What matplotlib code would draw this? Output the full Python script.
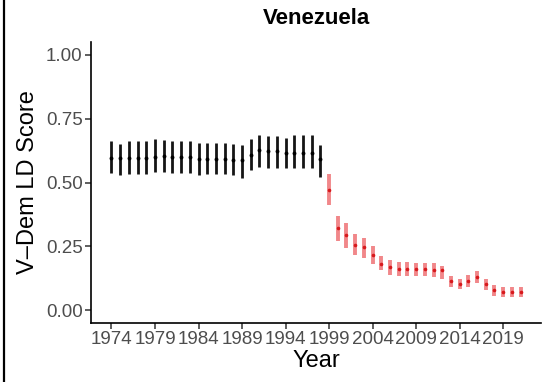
import matplotlib
matplotlib.use("Agg")
import matplotlib.pyplot as plt
from matplotlib.lines import Line2D

plt.rcParams['font.family'] = ['Liberation Sans', 'DejaVu Sans']

# Venezuela V-Dem Liberal Democracy index: point estimate with credible interval
years_pre = list(range(1974, 1999))
score_pre = [0.595, 0.594, 0.595, 0.595, 0.595, 0.600, 0.604, 0.598, 0.600, 0.600,
             0.593, 0.593, 0.593, 0.591, 0.589, 0.590, 0.608, 0.629, 0.623, 0.622,
             0.615, 0.615, 0.615, 0.615, 0.593]
upper_pre = [0.663, 0.651, 0.663, 0.663, 0.663, 0.672, 0.665, 0.663, 0.663, 0.663,
             0.656, 0.656, 0.656, 0.656, 0.651, 0.646, 0.672, 0.685, 0.681, 0.681,
             0.676, 0.685, 0.685, 0.685, 0.645]
lower_pre = [0.538, 0.529, 0.533, 0.533, 0.533, 0.542, 0.542, 0.536, 0.536, 0.536,
             0.529, 0.533, 0.533, 0.533, 0.529, 0.519, 0.549, 0.559, 0.555, 0.555,
             0.555, 0.557, 0.557, 0.557, 0.523]

years_post = list(range(1999, 2022))
score_post = [0.471, 0.323, 0.294, 0.257, 0.246, 0.218, 0.182, 0.169, 0.163, 0.163,
              0.162, 0.160, 0.158, 0.156, 0.114, 0.102, 0.114, 0.131, 0.101, 0.079,
              0.073, 0.072, 0.073]
upper_post = [0.532, 0.370, 0.341, 0.300, 0.283, 0.253, 0.211, 0.196, 0.189, 0.189,
              0.186, 0.186, 0.184, 0.174, 0.134, 0.121, 0.136, 0.153, 0.123, 0.098,
              0.091, 0.091, 0.092]
lower_post = [0.411, 0.271, 0.244, 0.215, 0.204, 0.182, 0.156, 0.139, 0.134, 0.134,
              0.133, 0.133, 0.130, 0.123, 0.090, 0.082, 0.090, 0.105, 0.078, 0.056,
              0.053, 0.052, 0.053]

x_ticks = list(range(1974, 2020, 5))
y_ticks = [0.00, 0.25, 0.50, 0.75, 1.00]

fig = plt.figure(figsize=(5.44, 3.82), dpi=100)
ax = fig.add_axes([0.1673, 0.1545, 0.8272, 0.7355])

# Pre-1999 intervals in black
ax.vlines(years_pre, lower_pre, upper_pre, color='#151515', linewidth=2.0)
ax.plot(years_pre, score_pre, 'o', color='black', markersize=2.8,
        markeredgewidth=0, linestyle='none')

# From 1999 on in translucent red
ax.vlines(years_post, lower_post, upper_post, color='#E8383D', alpha=0.6, linewidth=2.8)
ax.plot(years_post, score_post, 'o', color='#D7191C', markersize=2.6,
        markeredgewidth=0, linestyle='none')

span = years_post[-1] - years_pre[0]
ax.set_xlim(years_pre[0] - 0.05 * span, years_post[-1] + 0.05 * span)
ax.set_ylim(-0.05, 1.05)
ax.set_xticks(x_ticks)
ax.set_yticks(y_ticks)
ax.set_yticklabels([f"{v:.2f}" for v in y_ticks])

for s in ['top', 'right']:
    ax.spines[s].set_visible(False)
for s in ['left', 'bottom']:
    ax.spines[s].set_linewidth(1.2)
    ax.spines[s].set_color('black')
ax.tick_params(axis='both', length=4, width=1.1, color='#333333',
               labelsize=13.5, labelcolor='#4D4D4D', pad=2)

ax.set_title('Venezuela', fontsize=16, fontweight='bold', pad=13)
ax.set_xlabel('Year', fontsize=17, labelpad=1)
ax.set_ylabel('V\u2013Dem LD Score', fontsize=17, labelpad=5)

fig.add_artist(Line2D([0.0065, 0.0065], [0, 1], transform=fig.transFigure,
                      color='black', linewidth=1.6))

fig.savefig('out.png', dpi=100)
